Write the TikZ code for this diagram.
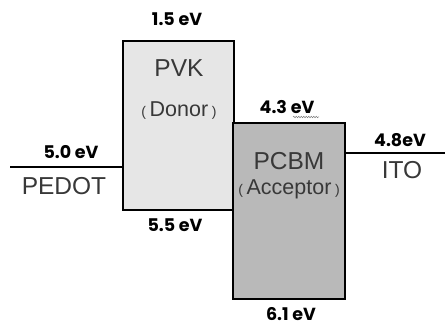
\documentclass[tikz,border=0pt]{standalone}
\usepackage{fontspec}
\setmainfont{Liberation Sans}
\newfontfamily\labfont{Poppins}
\usetikzlibrary{decorations.pathmorphing}
\definecolor{txtgray}{HTML}{383838}
\definecolor{pvkfill}{HTML}{E6E6E6}
\definecolor{pcbmfill}{HTML}{B9B9B9}
\tikzset{
  bandbox/.style={draw=black, line width=2.6pt, inner sep=0pt},
  levline/.style={line width=2.4pt},
  evlabel/.style={font=\labfont\bfseries\fontsize{17.5}{17.5}\selectfont, inner sep=0pt, text=black},
  nametext/.style={font=\fontsize{24.5}{24.5}\selectfont, inner sep=0pt, text=txtgray},
  subtext/.style={font=\fontsize{21.5}{21.5}\selectfont, inner sep=0pt, text=txtgray},
}
\newcommand{\smallpar}[1]{{\fontsize{14}{14}\selectfont #1}}
\begin{document}
\begin{tikzpicture}[x=1pt,y=-1pt]
\useasboundingbox (0,0) rectangle (445,326);
\node[bandbox, fill=pvkfill, minimum width=111pt, minimum height=169pt] (pvk) at (178.5,125.5) {};
\node[bandbox, fill=pcbmfill, minimum width=112pt, minimum height=176pt] (pcbm) at (289,211) {};
\coordinate (pedot) at (10,167);
\coordinate (ito) at (445,153);
\draw[levline] (pedot) -- (pvk.west |- pedot);
\draw[levline] (pcbm.east |- ito) -- (ito);
\node[evlabel] (l15) at (177,19) {1.5 eV};
\node[evlabel] (l50) at (71,152) {5.0 eV};
\node[evlabel] (l55) at (175,225) {5.5 eV};
\node[evlabel] (l43) at (287,107) {4.3 eV};
\node[evlabel] (l48) at (400,140) {4.8eV};
\node[evlabel] (l61) at (291,314) {6.1 eV};
\draw[gray, line width=0.5pt, decorate, decoration={snake, amplitude=0.8pt, segment length=2.5pt}] (293,117) -- (319,117);
\node[nametext] (pvkt) at (179,68) {PVK};
\node[subtext] (donor) at (179,111) {\smallpar{(}\,Donor\,\smallpar{)}};
\node[nametext] (pcbmt) at (289,161) {PCBM};
\node[subtext] (acc) at (289,189) {\smallpar{(}\,Acceptor\,\smallpar{)}};
\node[nametext] (pedott) at (64,186) {PEDOT};
\node[nametext] (itot) at (402,170) {ITO};
\end{tikzpicture}
\end{document}
